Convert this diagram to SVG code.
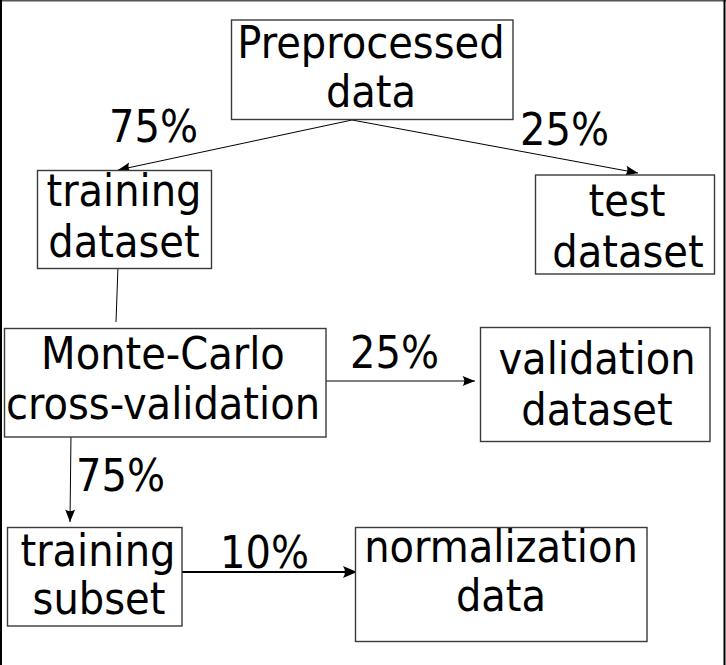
<svg xmlns="http://www.w3.org/2000/svg" width="726" height="665" viewBox="0 0 726 665">
<style>
  .box { fill: #ffffff; stroke: #3a3a3a; stroke-width: 1.4; }
  .t { font-family: "DejaVu Sans Condensed", "DejaVu Sans", sans-serif; font-stretch: condensed; font-size: 44.5px; fill: #000000; text-anchor: middle; }
  .lbl { font-family: "DejaVu Sans Condensed", "DejaVu Sans", sans-serif; font-stretch: condensed; font-size: 44.5px; fill: #000000; }
  .c { fill: none; stroke: #000000; stroke-width: 1; }
  .c2 { fill: none; stroke: #000000; stroke-width: 1.8; }
</style>
<defs>
  <marker id="ah" viewBox="-14 -7 16 14" refX="0" refY="0" markerWidth="16" markerHeight="14" markerUnits="userSpaceOnUse" orient="auto">
    <path d="M0,0 L-12.5,-5 Q-9,0 -12.5,5 Z" fill="#000000"/>
  </marker>
  <marker id="ah2" viewBox="-16 -8 18 16" refX="0" refY="0" markerWidth="18" markerHeight="16" markerUnits="userSpaceOnUse" orient="auto">
    <path d="M0,0 L-14,-6 Q-10,0 -14,6 Z" fill="#000000"/>
  </marker>
</defs>
<rect x="0" y="0" width="726" height="665" fill="#ffffff"/>
<g id="frame">
  <line x1="0" y1="0.7" x2="726" y2="0.7" stroke="#555555" stroke-width="1.5"/>
  <line x1="1" y1="0" x2="1" y2="665" stroke="#000000" stroke-width="2"/>
  <line x1="724.5" y1="0" x2="724.5" y2="665" stroke="#000000" stroke-width="2"/>
</g>
<g id="connectors">
  <path class="c" d="M352,120 L118,170" marker-end="url(#ah)"/>
  <path class="c" d="M352,120 L638,173" marker-end="url(#ah)"/>
  <path class="c" d="M118,266 L116,322" stroke="#444444"/>
  <path class="c" d="M322,381 L475,381" marker-end="url(#ah)"/>
  <path class="c" d="M71,434 L70,522" marker-end="url(#ah)"/>
  <path class="c2" d="M177,572 L357,572" marker-end="url(#ah2)"/>
  <text class="lbl" x="109" y="142">75%</text>
  <text class="lbl" x="520" y="145">25%</text>
  <text class="lbl" x="350" y="368">25%</text>
  <text class="lbl" x="76" y="491">75%</text>
  <text class="lbl" x="220" y="568">10%</text>
</g>
<g id="preprocessed">
  <rect class="box" x="231.5" y="20" width="281.5" height="99.5"/>
  <text class="t" x="371" y="58">Preprocessed</text>
  <text class="t" x="371" y="107">data</text>
</g>
<g id="training-dataset">
  <rect class="box" x="37.5" y="170.5" width="174" height="98"/>
  <text class="t" x="124" y="206">training</text>
  <text class="t" x="124" y="257">dataset</text>
</g>
<g id="test-dataset">
  <rect class="box" x="535.5" y="175" width="179" height="99"/>
  <text class="t" x="627" y="216">test</text>
  <text class="t" x="628" y="267">dataset</text>
</g>
<g id="monte-carlo">
  <rect class="box" x="4.5" y="328.5" width="321.5" height="108.5"/>
  <text class="t" x="163" y="369">Monte-Carlo</text>
  <text class="t" x="163" y="419">cross-validation</text>
</g>
<g id="validation-dataset">
  <rect class="box" x="480.5" y="327.5" width="229.5" height="114"/>
  <text class="t" x="597" y="374">validation</text>
  <text class="t" x="597" y="425">dataset</text>
</g>
<g id="training-subset">
  <rect class="box" x="7.5" y="527.5" width="174.5" height="98.5"/>
  <text class="t" x="98" y="566">training</text>
  <text class="t" x="99" y="614">subset</text>
</g>
<g id="normalization-data">
  <rect class="box" x="355.5" y="527.5" width="291.5" height="114"/>
  <text class="t" x="501" y="562">normalization</text>
  <text class="t" x="501" y="611">data</text>
</g>
</svg>
